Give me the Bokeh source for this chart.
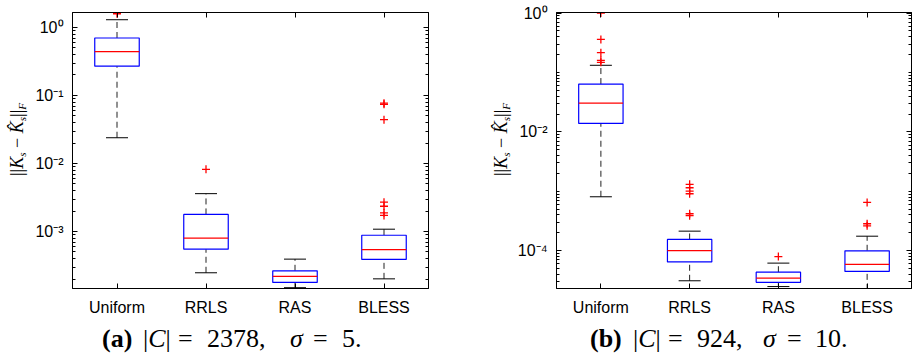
from bokeh.plotting import figure
from bokeh.layouts import row, column
from bokeh.models import (Range1d, FixedTicker, LinearAxis, LogAxis, Div,
                          Whisker, TeeHead, ColumnDataSource)
from bokeh.embed import file_html
from bokeh.resources import INLINE

categories = ["Uniform", "RRLS", "RAS", "BLESS"]
positions = [1, 2, 3, 4]

# panel (a)
a_lo = [0.0239, 2.47e-4, 1.49e-4, 2.01e-4]
a_q1 = [0.27, 5.5e-4, 1.78e-4, 3.88e-4]
a_med = [0.44, 7.97e-4, 2.18e-4, 5.4e-4]
a_q3 = [0.70, 1.78e-3, 2.64e-4, 8.8e-4]
a_hi = [1.30, 3.6e-3, 3.92e-4, 1.08e-3]
a_out_pos = [1, 2, 4, 4, 4, 4, 4, 4, 4]
a_out_val = [1.59, 8.2e-3, 0.077, 0.074, 0.044, 2.7e-3, 2.35e-3, 1.88e-3, 1.72e-3]
a_ticks = [1e-3, 1e-2, 1e-1, 1e0]
a_tick_labels = ["10\u207b\u00b3", "10\u207b\u00b2", "10\u207b\u00b9", "10\u2070"]
a_tag = "(a)"
a_n = "2378"
a_sigma = "5"

# panel (b)
b_lo = [8.1e-4, 3.13e-5, 2.5e-5, 2.2e-5]
b_q1 = [0.0139, 6.5e-5, 2.95e-5, 4.5e-5]
b_med = [0.0305, 1.01e-4, 3.46e-5, 5.9e-5]
b_q3 = [0.0638, 1.55e-4, 4.36e-5, 1.0e-4]
b_hi = [0.132, 2.14e-4, 6.2e-5, 1.76e-4]
b_out_pos = [1, 1, 1, 1, 1, 2, 2, 2, 2, 2, 2, 3, 4, 4, 4]
b_out_val = [1.0, 0.36, 0.215, 0.16, 0.148,
             1.31e-3, 1.15e-3, 1.01e-3, 9.1e-4, 4.2e-4, 3.9e-4,
             8.0e-5,
             6.5e-4, 2.85e-4, 2.63e-4]
b_ticks = [1e-4, 1e-2, 1e0]
b_tick_labels = ["10\u207b\u2074", "10\u207b\u00b2", "10\u2070"]
b_tag = "(b)"
b_n = "924"
b_sigma = "10"

BOX_W = 0.5
CAP_PX = 22
SANS = "Liberation Sans"
SERIF = "'Liberation Serif'"
FIG_H = 318


def minor_ticks(lo_exp, hi_exp):
    out = []
    for e in range(lo_exp, hi_exp + 1):
        for k in range(1, 10):
            out.append(k * 10.0 ** e)
    return out


def panel(lo, q1, med, q3, hi, out_pos, out_val, ylim, ticks, tick_labels,
          exp_range, bl, br, fw):
    p = figure(x_range=Range1d(0.5, 4.5), y_range=Range1d(*ylim),
               y_axis_type="log", output_backend="svg", toolbar_location=None,
               frame_width=fw, frame_height=276,
               min_border_left=bl, min_border_right=br,
               min_border_top=12, min_border_bottom=FIG_H - 12 - 276,
               background_fill_color="white", border_fill_color="white",
               outline_line_color="black")
    p.grid.visible = False

    src = ColumnDataSource(dict(x=positions, lo=lo, q1=q1, med=med, q3=q3, hi=hi,
                                x0=[v - BOX_W / 2 for v in positions],
                                x1=[v + BOX_W / 2 for v in positions]))
    p.add_layout(Whisker(source=src, base="x", lower="q3", upper="hi",
                         line_color="#222222", line_dash="6 4", line_width=1,
                         upper_head=TeeHead(size=CAP_PX, line_color="black", line_width=1),
                         lower_head=None))
    p.add_layout(Whisker(source=src, base="x", lower="lo", upper="q1",
                         line_color="#222222", line_dash="6 4", line_width=1,
                         lower_head=TeeHead(size=CAP_PX, line_color="black", line_width=1),
                         upper_head=None))
    p.vbar(x="x", top="q3", bottom="q1", width=BOX_W, source=src,
           fill_color="white", line_color="#0000ff", line_width=1.2)
    p.segment(x0="x0", x1="x1", y0="med", y1="med", source=src,
              line_color="#ff0000", line_width=1.2)
    p.scatter(x=out_pos, y=out_val, marker="cross", size=8,
              line_color="#ff0000", line_width=1.3)

    xt = FixedTicker(ticks=positions)
    yt = FixedTicker(ticks=ticks, minor_ticks=minor_ticks(*exp_range))
    xa = p.xaxis[0]
    xa.ticker = xt
    xa.major_label_overrides = {v: c for v, c in zip(positions, categories)}
    ya = p.yaxis[0]
    ya.ticker = yt
    ya.major_label_overrides = {v: t for v, t in zip(ticks, tick_labels)}
    top = LinearAxis(ticker=xt, major_label_overrides={v: "" for v in positions},
                     major_label_standoff=0)
    right = LogAxis(ticker=yt, major_label_overrides={v: "" for v in ticks},
                    major_label_standoff=0)
    p.add_layout(top, "above")
    p.add_layout(right, "right")
    for ax in (xa, ya, top, right):
        ax.axis_line_color = "black"
        ax.major_tick_line_color = "black"
        ax.minor_tick_line_color = "black"
        ax.major_tick_in = 5
        ax.major_tick_out = 0
        ax.minor_tick_in = 3
        ax.minor_tick_out = 0
        ax.major_label_text_font = SANS
        ax.major_label_text_font_size = "16px"
        ax.major_label_text_color = "black"
    for ax in (xa, top):
        ax.minor_tick_line_color = None
    xa.major_label_standoff = 10
    ya.major_label_standoff = 9
    return p


def sub(t):
    return ('<sub style="font-size:62%;vertical-align:-0.28em;line-height:0"><i>'
            + t + '</i></sub>')


def ylabel_div():
    txt = ('||<i>K</i>' + sub('s') + '&nbsp;\u2212&nbsp;<i>K\u0302</i>' + sub('s')
           + '||' + sub('F'))
    html = ('<div style="position:relative;width:30px;height:' + str(FIG_H) + 'px">'
            '<div style="position:absolute;left:8px;top:176px;transform:rotate(-90deg);'
            'transform-origin:0 0;white-space:nowrap;font-family:' + SERIF + ';font-size:18px;'
            'line-height:19px;color:#000">' + txt + '</div></div>')
    return Div(text=html, width=30, height=FIG_H, margin=0)


def caption(tag, n, sigma, width, x0, offs):
    pieces = ['<b>' + tag + '</b>', '|<i>C</i>|', '=', n + ',', '<i>\u03c3</i>', '=',
              sigma + '.']
    spans = ''.join('<span style="position:absolute;left:' + str(o - x0) + 'px;top:0">'
                    + t + '</span>' for o, t in zip(offs, pieces))
    html = ('<div style="position:relative;width:' + str(width) + 'px;height:41px">'
            '<div style="position:absolute;left:0;top:7px;width:' + str(width) + 'px;height:30px;'
            'white-space:nowrap;font-family:' + SERIF + ';font-size:26px;line-height:28px;'
            'color:#000">' + spans + '</div></div>')
    return Div(text=html, width=width, height=41, margin=0)


pa = panel(a_lo, a_q1, a_med, a_q3, a_hi, a_out_pos, a_out_val,
           (1.45e-4, 1.66), a_ticks, a_tick_labels, (-4, 0), 42, 56, 356)
pb = panel(b_lo, b_q1, b_med, b_q3, b_hi, b_out_pos, b_out_val,
           (2.32e-5, 1.02), b_ticks, b_tick_labels, (-5, 0), 42, 2, 355)

da = caption(a_tag, a_n, a_sigma, 484, 0, [102, 143, 178, 207, 290, 313, 342])
db = caption(b_tag, b_n, b_sigma, 431, 484, [590, 633, 668, 697, 763, 787, 815])

layout = column(row(ylabel_div(), pa, ylabel_div(), pb), row(da, db))
open("out.html", "w").write(file_html(layout, INLINE))
